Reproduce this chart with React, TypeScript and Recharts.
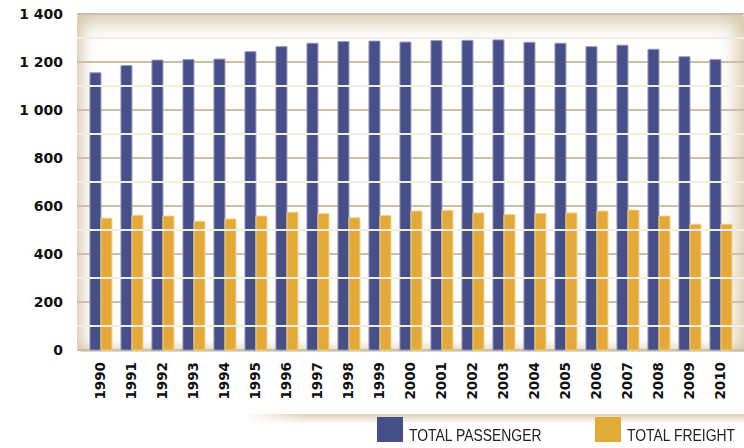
import { BarChart, Bar, XAxis, YAxis, CartesianGrid, ReferenceLine } from 'recharts';

const years = [
    '1990', '1991', '1992', '1993', '1994', '1995', '1996', '1997', '1998', '1999', '2000',
    '2001', '2002', '2003', '2004', '2005', '2006', '2007', '2008', '2009', '2010',
];
const passenger = [
    1155, 1185, 1208, 1210, 1212, 1243, 1264, 1278, 1285, 1287, 1283,
    1289, 1290, 1292, 1282, 1278, 1264, 1270, 1253, 1222, 1210,
];
const freight = [
    549, 561, 558, 536, 546, 558, 574, 568, 551, 560, 579,
    582, 571, 564, 569, 571, 579, 583, 558, 524, 524,
];
const yTicks = [0, 200, 400, 600, 800, 1000, 1200, 1400];
const minorTicks = [100, 300, 500, 700, 900, 1100, 1300];

const series = [
    { key: 'passenger', name: 'TOTAL PASSENGER', color: '#474f89', edge: '#9497bf' },
    { key: 'freight', name: 'TOTAL FREIGHT', color: '#e3a939', edge: '#f2cf85' },
];

const data = years.map((year, i) => ({ year, passenger: passenger[i], freight: freight[i] }));

const formatTick = (v: number) => String(v).replace(/\B(?=(\d{3})+(?!\d))/g, ' ');

const YearTick = (props: any) => {
    const { x, y, payload } = props;
    return (
        <g transform={`translate(${x},${y})`}>
            <text
                transform="rotate(-90)"
                x={-4}
                dy="0.36em"
                textAnchor="end"
                fill="#111"
                fontSize={13.5}
                fontWeight="bold"
                fontFamily="DejaVu Sans"
            >
                {payload.value}
            </text>
        </g>
    );
};

export default function App() {
    return (
        <div style={{ position: 'relative', width: 744, height: 448, overflow: 'hidden', background: '#fff', fontFamily: 'DejaVu Sans' }}>
            <style>{'body{margin:0}'}</style>
            {/* plot background with soft beige vignette */}
            <div
                style={{
                    position: 'absolute',
                    left: 77,
                    top: 13,
                    width: 667,
                    height: 339,
                    borderRadius: '6px 6px 0 6px',
                    background: '#fff',
                    boxShadow:
                        'inset 0 16px 16px -4px rgba(214,199,170,0.8), inset 12px 0 14px -6px rgba(210,195,165,0.7), inset -16px 0 16px -6px rgba(210,195,165,0.65), inset 0 -9px 10px -4px rgba(210,195,165,0.6)',
                }}
            />
            {/* shadow band above the legend */}
            <div
                style={{
                    position: 'absolute',
                    left: 245,
                    top: 414,
                    width: 499,
                    height: 10,
                    background: 'linear-gradient(to bottom, rgba(214,199,170,0.85), rgba(255,255,255,0))',
                    WebkitMaskImage: 'linear-gradient(to right, transparent, black 60px)',
                    maskImage: 'linear-gradient(to right, transparent, black 60px)',
                }}
            />
            <div style={{ position: 'absolute', left: 0, top: 0 }}>
                <BarChart
                    width={744}
                    height={448}
                    data={data}
                    margin={{ top: 14, right: 0, left: 7, bottom: 0 }}
                    barCategoryGap="16%"
                    barGap={0}
                >
                    {minorTicks.map((v) => (
                        <ReferenceLine key={v} y={v} stroke="#f1ede3" strokeWidth={2} />
                    ))}
                    <CartesianGrid vertical={false} stroke="#cdbf9f" strokeWidth={2} />
                    <XAxis
                        dataKey="year"
                        height={98}
                        axisLine={false}
                        tickLine={false}
                        tickSize={0}
                        tickMargin={8}
                        interval={0}
                        padding={{ left: 8, right: 8 }}
                        tick={<YearTick />}
                    />
                    <YAxis
                        width={70}
                        domain={[0, 1400]}
                        ticks={yTicks}
                        axisLine={false}
                        tickLine={false}
                        tickSize={0}
                        tickMargin={14}
                        tickFormatter={formatTick}
                        tick={{ fill: '#111', fontSize: 14, fontWeight: 'bold', fontFamily: 'DejaVu Sans' }}
                    />
                    {series.map((s) => (
                        <Bar
                            key={s.key}
                            dataKey={s.key}
                            name={s.name}
                            fill={s.color}
                            stroke={s.edge}
                            strokeWidth={1}
                            isAnimationActive={false}
                        />
                    ))}
                </BarChart>
            </div>
            {/* legend */}
            {series.map((s, i) => (
                <div
                    key={s.key}
                    style={{
                        position: 'absolute',
                        left: i === 0 ? 377 : 595,
                        top: 417,
                        display: 'flex',
                        alignItems: 'flex-end',
                        whiteSpace: 'nowrap',
                    }}
                >
                    <div style={{ width: 26, height: 25, background: s.color, flex: 'none' }} />
                    <span
                        style={{
                            display: 'inline-block',
                            marginLeft: 6,
                            fontFamily: '"Liberation Sans", Arial',
                            fontSize: 16,
                            lineHeight: '16px',
                            color: '#222',
                            marginBottom: -2,
                            transform: 'scaleX(0.87)',
                            transformOrigin: 'left bottom',
                        }}
                    >
                        {s.name}
                    </span>
                </div>
            ))}
        </div>
    );
}
